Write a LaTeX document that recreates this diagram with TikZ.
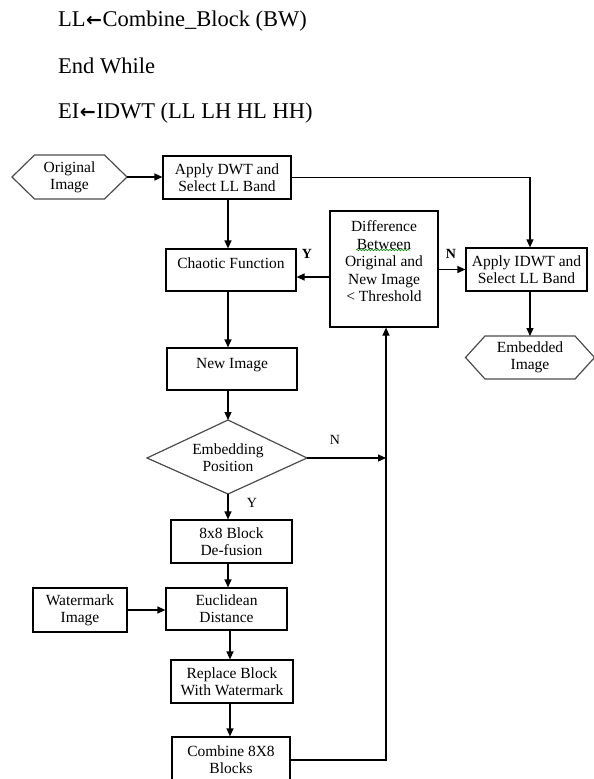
\documentclass[tikz,border=0pt]{standalone}
\usepackage{fontspec}
\setmainfont{Liberation Serif}
\newfontfamily\arrowfont{DejaVu Sans}
\usetikzlibrary{arrows.meta,calc,decorations.pathmorphing}
\newcommand{\larr}{{\arrowfont\bfseries\fontsize{19}{27}\selectfont\kern0.5pt←\kern0.5pt}}
\begin{document}
\begin{tikzpicture}[x=1pt,y=-1pt,
  font=\fontsize{15.5}{17}\selectfont,
  box/.style={draw, line width=1.2pt, inner sep=0pt, align=center},
  txt/.style={inner sep=0pt, align=center},
  arr/.style={line width=1.2pt, -{Triangle[length=8pt,width=7pt]}},
  hexline/.style={draw=black!70, line width=1.2pt},
  toptext/.style={anchor=base west, inner sep=0pt, font=\fontsize{22.5}{27}\selectfont},
  lbl/.style={inner sep=0pt, font=\fontsize{14}{16}\selectfont}]
\useasboundingbox (0,0) rectangle (594,779);

% top text
\node[toptext] (t1) at (58,27) {LL\larr Combine\_Block (BW)};
\node[toptext] (t2) at (58,73) {End While};
\node[toptext] (t3) at (58,118) {EI\larr IDWT (LL LH HL HH)};

% helper x positions
\coordinate (ax) at (228,0);
\coordinate (ax2) at (230,0);
\coordinate (rx) at (386,0);
\coordinate (bx) at (530,0);
\coordinate (yy) at (0,277);

% hexagon: Original Image
\node[txt] (orig) at (69.5,177) {Original\\Image};
\draw[hexline] ($(orig)+(-57.5,0)$) -- ($(orig)+(-35,-22)$) -- ($(orig)+(35,-22)$)
  -- ($(orig)+(57.5,0)$) -- ($(orig)+(35,22)$) -- ($(orig)+(-35,22)$) -- cycle;
\coordinate (origR) at ($(orig)+(57.5,0)$);

% boxes
\node[box, minimum width=128pt, minimum height=43pt] (dwt) at (227,177.5) {Apply DWT and\\Select LL Band};
\node[box, minimum width=130pt, minimum height=42pt] (chaotic) at (231,270) {};
\node[txt] (chaotict) at (231,263) {Chaotic Function};
\node[box, minimum width=130pt, minimum height=42pt] (newimg) at (232,369) {};
\node[txt] (newimgt) at (232,365) {New Image};

% diamond
\node[txt] (emb) at (228,458) {Embedding\\Position};
\coordinate (dT) at ($(emb)+(0,-38)$);
\coordinate (dB) at ($(emb)+(0,36)$);
\coordinate (dL) at ($(emb)+(-81,0)$);
\coordinate (dR) at ($(emb)+(79,0)$);
\draw[hexline] (dL) -- (dT) -- (dR) -- (dB) -- cycle;

\node[box, minimum width=121pt, minimum height=43pt] (defus) at (231.5,541.5) {8x8 Block\\De-fusion};
\node[box, minimum width=121pt, minimum height=42pt] (euclid) at (226.5,609) {Euclidean\\Distance};
\node[box, minimum width=94pt, minimum height=44pt] (water) at (80,610) {Watermark\\Image};
\node[box, minimum width=122pt, minimum height=43pt] (replace) at (232,681.5) {Replace Block\\With Watermark};
\node[box, minimum width=118pt, minimum height=46pt] (combine) at (231,760) {Combine 8X8\\Blocks};

\node[box, minimum width=108pt, minimum height=116pt] (diff) at (384,269) {};
\node[txt, font=\fontsize{15.5}{17.5}\selectfont] (difft) at (384,261.5) {Difference\\Between\\Original and\\New Image\\< Threshold};
\draw[green!55!black, line width=0.6pt, decorate, decoration={snake, amplitude=0.8pt, segment length=3pt}] (356,250) -- (410,250);

\node[box, minimum width=121pt, minimum height=43pt] (idwt) at (526.5,269.5) {Apply IDWT and\\Select LL Band};

% hexagon: Embedded Image
\node[txt] (embimg) at (530,357.5) {Embedded\\Image};
\draw[hexline] ($(embimg)+(-64.5,0)$) -- ($(embimg)+(-45,-21.5)$) -- ($(embimg)+(45,-21.5)$)
  -- ($(embimg)+(64.5,0)$) -- ($(embimg)+(45,21.5)$) -- ($(embimg)+(-45,21.5)$) -- cycle;
\coordinate (embT) at ($(embimg)+(0,-21.5)$);

% connectors
\draw[arr] (origR) -- (origR -| dwt.west);
\draw[arr] (dwt.south -| ax) -- (chaotic.north -| ax);
\draw[arr] (chaotic.south -| ax) -- (newimg.north -| ax);
\draw[arr] (newimg.south -| ax) -- (dT);
\draw[arr] (dB) -- (defus.north -| dB);
\draw[arr] (defus.south -| ax) -- (euclid.north -| ax);
\draw[arr] (water.east) -- (water.east -| euclid.west);
\draw[arr] (euclid.south -| ax2) -- (replace.north -| ax2);
\draw[arr] (replace.south -| ax2) -- (combine.north -| ax2);
\draw[arr] (combine.east) -| (diff.south -| rx);
\draw[arr] (dR) -- (dR -| rx);
\draw[arr] (diff.west |- yy) -- (chaotic.east |- yy);
\draw[arr] (diff.east |- idwt.west) -- (idwt.west);
\draw[arr] (dwt.east) -| (idwt.north -| bx);
\draw[arr] (idwt.south -| embT) -- (embT);

% labels
\node[lbl, font=\bfseries\fontsize{14}{16}\selectfont] (ly1) at (307,254) {Y};
\node[lbl, font=\bfseries\fontsize{14}{16}\selectfont] (ln1) at (451,254) {N};
\node[lbl] (ln2) at (335,440) {N};
\node[lbl] (ly2) at (252,503) {Y};
\end{tikzpicture}
\end{document}
